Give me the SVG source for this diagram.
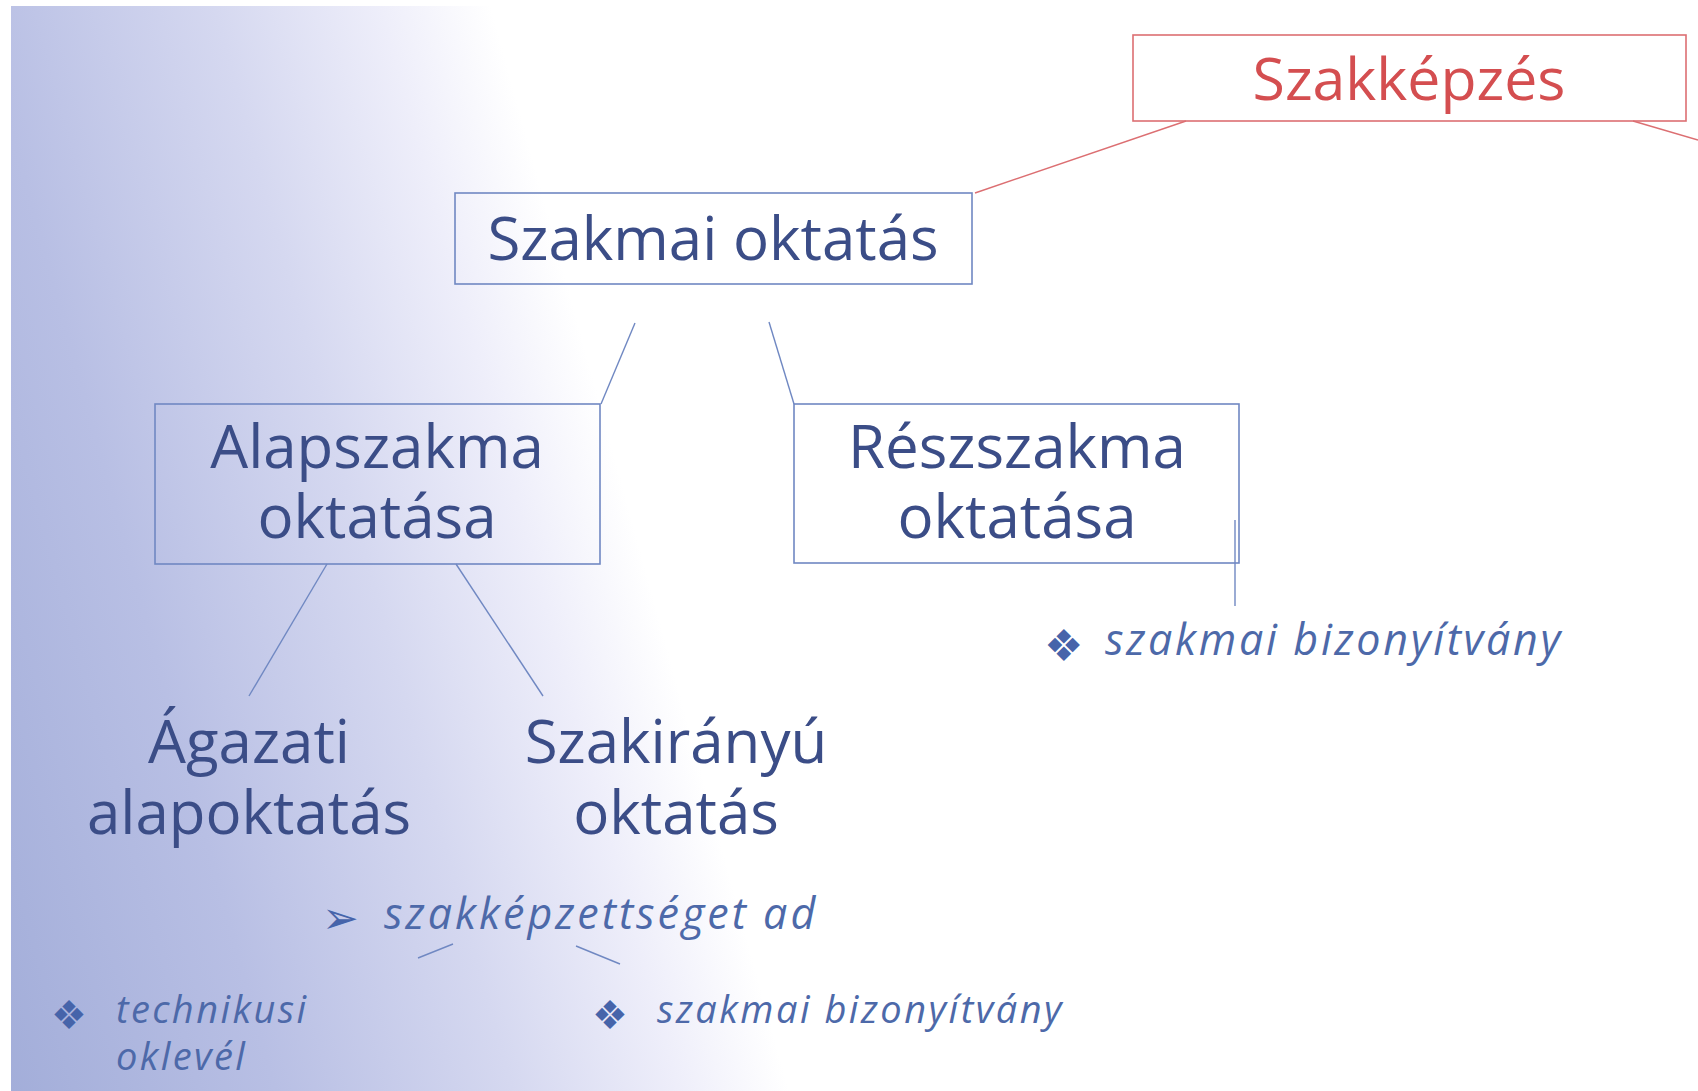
<svg xmlns="http://www.w3.org/2000/svg" width="1698" height="1091" viewBox="0 0 1698 1091">
<defs>
<linearGradient id="bg" gradientUnits="userSpaceOnUse" x1="-280" y1="77" x2="455" y2="-125">
<stop offset="0" stop-color="#a2add9"/>
<stop offset="0.35" stop-color="#b8bfe4"/>
<stop offset="0.65" stop-color="#d5d8f0"/>
<stop offset="0.86" stop-color="#eeeefa"/>
<stop offset="1" stop-color="#ffffff"/>
</linearGradient>
<style>
.box{fill:none;stroke:#7088c2;stroke-width:1.6}
.rbox{fill:none;stroke:#dc6f72;stroke-width:1.6}
.t{font-family:"Open Sans","Noto Sans",sans-serif;font-size:60px;fill:#3b4d87;text-anchor:middle}
.r{font-family:"Open Sans","Noto Sans",sans-serif;font-size:59px;fill:#d44e50;text-anchor:middle}
.i{font-family:"Open Sans","Noto Sans",sans-serif;font-style:italic;fill:#4d69a9}
.b{font-family:"DejaVu Sans",sans-serif;fill:#4664aa}
.c{stroke:#7088c2;stroke-width:1.4;fill:none}
.cr{stroke:#dc6f72;stroke-width:1.4;fill:none}
</style>
</defs>
<rect x="0" y="0" width="1698" height="1091" fill="#ffffff"/>
<rect x="11" y="6" width="1687" height="1085" fill="url(#bg)"/>
<g id="connectors">
<line class="cr" x1="1186" y1="121" x2="975" y2="193"/>
<line class="cr" x1="1633" y1="121" x2="1698" y2="140"/>
<line class="c" x1="635" y1="323" x2="601" y2="404"/>
<line class="c" x1="769" y1="322" x2="794" y2="404"/>
<line class="c" x1="327" y1="564" x2="249" y2="696"/>
<line class="c" x1="456" y1="564" x2="543" y2="696"/>
<line class="c" x1="1235" y1="520" x2="1235" y2="606"/>
<line class="c" x1="418" y1="958" x2="453" y2="944"/>
<line class="c" x1="576" y1="946" x2="620" y2="964"/>
</g>
<g id="szakkepzes">
<rect class="rbox" x="1133" y="35" width="553" height="86"/>
<text class="r" x="1409" y="100">Szakképzés</text>
</g>
<g id="szakmai-oktatas">
<rect class="box" x="455" y="193" width="517" height="91"/>
<text class="t" x="713" y="260">Szakmai oktatás</text>
</g>
<g id="alapszakma">
<rect class="box" x="155" y="404" width="445" height="160"/>
<text class="t" x="377" y="468">Alapszakma</text>
<text class="t" x="377" y="538">oktatása</text>
</g>
<g id="reszszakma">
<rect class="box" x="794" y="404" width="445" height="159"/>
<text class="t" x="1017" y="468">Részszakma</text>
<text class="t" x="1017" y="538">oktatása</text>
</g>
<g id="agazati">
<text class="t" x="249" y="763">Ágazati</text>
<text class="t" x="249" y="834">alapoktatás</text>
</g>
<g id="szakiranyu">
<text class="t" x="676" y="763">Szakirányú</text>
<text class="t" x="676" y="834">oktatás</text>
</g>
<g id="bizonyitvany-1">
<text class="b" x="1044" y="661" font-size="44">❖</text>
<text class="i" x="1105" y="655" font-size="43" letter-spacing="2.7">szakmai bizonyítvány</text>
</g>
<g id="szakkepzettseg">
<text class="b" x="322" y="933" font-size="44" font-weight="bold">➢</text>
<text class="i" x="384" y="929" font-size="43" letter-spacing="3">szakképzettséget ad</text>
</g>
<g id="technikusi">
<text class="b" x="51" y="1029" font-size="40">❖</text>
<text class="i" x="116" y="1023" font-size="38" letter-spacing="2.4">technikusi</text>
<text class="i" x="116" y="1070" font-size="38" letter-spacing="2.4">oklevél</text>
</g>
<g id="bizonyitvany-2">
<text class="b" x="592" y="1029" font-size="40">❖</text>
<text class="i" x="657" y="1023" font-size="38" letter-spacing="2.5">szakmai bizonyítvány</text>
</g>
</svg>
